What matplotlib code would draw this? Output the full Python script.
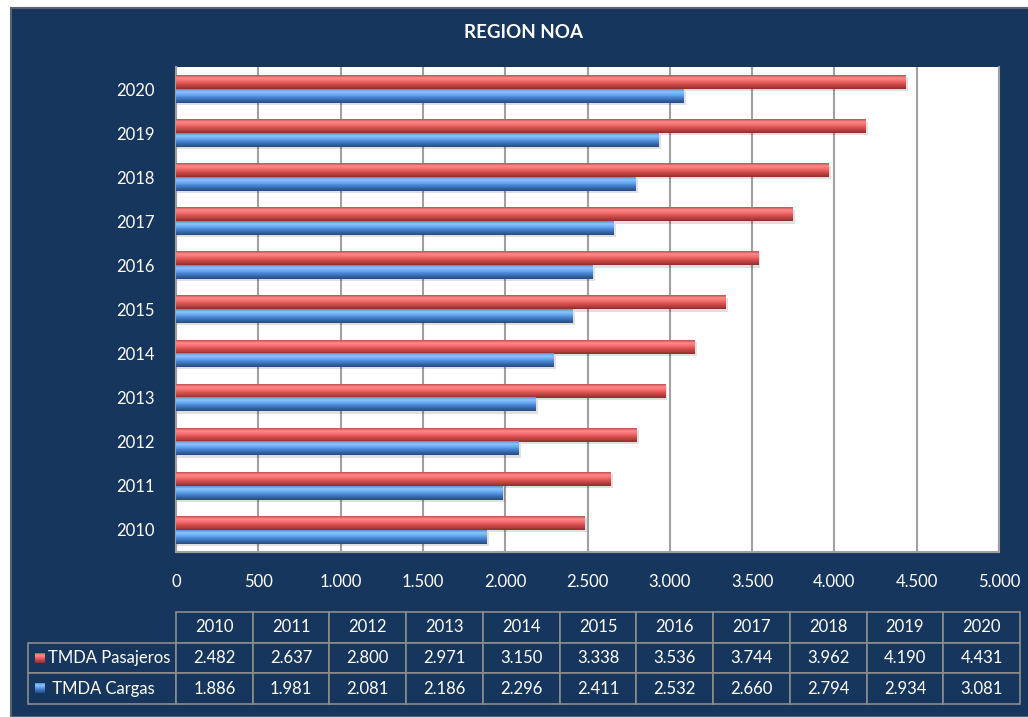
import numpy as np
import matplotlib
matplotlib.use('Agg')
import matplotlib.pyplot as plt
from matplotlib.colors import LinearSegmentedColormap
from matplotlib.patches import Rectangle
from matplotlib.table import Table

years = ['2010', '2011', '2012', '2013', '2014', '2015', '2016', '2017', '2018', '2019', '2020']
pasajeros = [2482, 2637, 2800, 2971, 3150, 3338, 3536, 3744, 3962, 4190, 4431]
cargas = [1886, 1981, 2081, 2186, 2296, 2411, 2532, 2660, 2794, 2934, 3081]
series_names = ['TMDA Pasajeros', 'TMDA Cargas']
x_ticks = [0, 500, 1000, 1500, 2000, 2500, 3000, 3500, 4000, 4500, 5000]

navy = '#17365D'
plt.rcParams['font.family'] = ['Lato', 'DejaVu Sans']

# vertical gradients to imitate the shaded excel bars (top -> bottom)
red_cmap = LinearSegmentedColormap.from_list(
    'red3d', ['#C05050', '#FF8A8A', '#F57070', '#DC5252', '#B84040', '#8E2E2E'])
blue_cmap = LinearSegmentedColormap.from_list(
    'blue3d', ['#5A8FCC', '#8CC6FF', '#6AA8F0', '#4A86D2', '#3566A8', '#264B80'])
grad = np.linspace(0, 1, 64).reshape(-1, 1)


def fmt(v):
    return f'{v:,.0f}'.replace(',', '.')


def gradient_barh(ax, y, width, h, cmap):
    # soft shadow under the bar
    ax.add_patch(Rectangle((0, y - h / 2 - 0.05), width + 15, h, facecolor='#000000',
                           alpha=0.12, edgecolor='none', zorder=2))
    ax.imshow(grad, cmap=cmap, aspect='auto', extent=(0, width, y - h / 2, y + h / 2),
              zorder=3, interpolation='bilinear')


fig = plt.figure(figsize=(10.28, 7.17), dpi=100)
fig.patch.set_facecolor('white')
fig.add_artist(Rectangle((11 / 1028, 0), 1.0, 1 - 8 / 717, transform=fig.transFigure,
                         facecolor=navy, edgecolor='#5A6470', linewidth=1.5, zorder=0))

ax = fig.add_axes([176 / 1028, 1 - 552 / 717, (999 - 176) / 1028, (552 - 67) / 717])
ax.set_facecolor('white')

bh = 0.31
pos = np.arange(len(years))
for i in pos:
    gradient_barh(ax, i + bh / 2, pasajeros[i], bh, red_cmap)
    gradient_barh(ax, i - bh / 2, cargas[i], bh, blue_cmap)

ax.set_xlim(0, 5000)
ax.set_ylim(-0.5, len(years) - 0.5)
ax.set_xticks(x_ticks)
ax.set_xticklabels([fmt(t) for t in x_ticks])
ax.set_yticks(pos)
ax.set_yticklabels(years)
ax.tick_params(colors='white', labelsize=12, length=0)
ax.tick_params(axis='x', pad=16)
ax.tick_params(axis='y', pad=15)
ax.grid(axis='x', color='#A0A0A0', linewidth=1.5, zorder=1)
ax.set_axisbelow(True)
for s in ['left', 'bottom', 'right']:
    ax.spines[s].set_color('#A0A0A0')
    ax.spines[s].set_linewidth(1.5)
ax.spines['top'].set_visible(False)

fig.text(523 / 1028, 1 - 33 / 717, 'REGION NOA', color='white', fontsize=13.5,
         fontweight='bold', ha='center', va='center')

# data table under the chart
tab_ax = fig.add_axes([28 / 1028, 1 - 704 / 717, (1020 - 28) / 1028, (704 - 612) / 717])
tab_ax.axis('off')
tbl = Table(tab_ax, bbox=[0, 0, 1, 1])
label_w = 148
col_w = (1020 - 176) / len(years)
rows = [pasajeros, cargas]
for c, yr in enumerate(years):
    tbl.add_cell(0, c + 1, col_w, 1, text=yr, loc='center',
                 facecolor=navy, edgecolor='#8C8C8C')
tbl.add_cell(0, 0, label_w, 1, text='', facecolor=navy, edgecolor='none')
for r, vals in enumerate(rows):
    tbl.add_cell(r + 1, 0, label_w, 1, text=('    ' if r == 0 else '     ') + series_names[r],
                 loc='left', facecolor=navy, edgecolor='#8C8C8C')
    for c, v in enumerate(vals):
        tbl.add_cell(r + 1, c + 1, col_w, 1, text=fmt(v), loc='center',
                     facecolor=navy, edgecolor='#8C8C8C')
tbl.auto_set_font_size(False)
for cell in tbl.get_celld().values():
    cell.set_linewidth(1.2)
    cell.get_text().set_color('white')
    cell.get_text().set_fontsize(12)
    cell.PAD = 0.02
tab_ax.add_table(tbl)

# legend keys inside the row labels
for r, cmap in enumerate([red_cmap, blue_cmap]):
    yc = 1 - (658 + 30 * r) / 717
    kax = fig.add_axes([35 / 1028, yc - 5 / 717, 10 / 1028, 10 / 717])
    kax.imshow(grad, cmap=cmap, aspect='auto', extent=(0, 1, 0, 1))
    kax.set_xticks([])
    kax.set_yticks([])
    for s in kax.spines.values():
        s.set_visible(False)

fig.savefig('out.png', dpi=100, facecolor=fig.get_facecolor())
